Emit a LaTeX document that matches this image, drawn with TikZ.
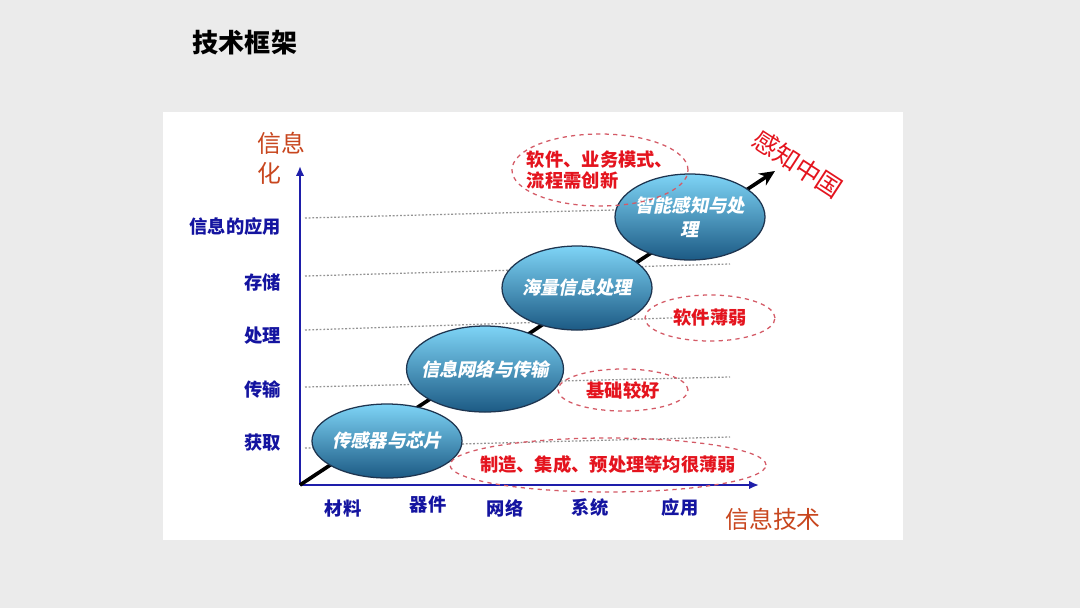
\documentclass[tikz,border=0pt]{standalone}
\usepackage{fontspec}
\setmainfont{Noto Sans CJK SC}
\newfontfamily\slantcjk{Noto Sans CJK SC}[UprightFeatures={FakeSlant=0.2},BoldFeatures={FakeSlant=0.2}]
\usepackage{tikz}
\usetikzlibrary{arrows.meta,shapes.geometric}

\definecolor{axisblue}{HTML}{1E1EAA}
\definecolor{labelblue}{HTML}{1414A0}
\definecolor{titlered}{HTML}{C8461E}
\definecolor{notered}{HTML}{E4141E}
\definecolor{dashred}{HTML}{D45A66}
\definecolor{balltop}{HTML}{7ED4F6}
\definecolor{ballbot}{HTML}{1C5A84}
\definecolor{ballrim}{HTML}{1E3550}
\definecolor{pagegray}{HTML}{EBEBEB}
\newcommand{\pxl}{0.025cm}

\tikzset{
  ball/.style={ellipse, draw=ballrim, line width=0.9pt, top color=balltop, bottom color=ballbot, inner sep=0pt},
  balltext/.style={text=white, align=center, inner sep=0pt, font=\fontsize{13}{17}\selectfont\slantcjk\bfseries},
  note/.style={ellipse, draw=dashred, dashed, line width=0.9pt, inner sep=0pt},
  notetext/.style={text=notered, align=left, inner sep=0pt, font=\fontsize{13}{15.5}\selectfont\bfseries},
  lvl/.style={anchor=east, text=labelblue, font=\fontsize{13}{15}\selectfont\bfseries},
  xlab/.style={text=labelblue, font=\fontsize{13}{15}\selectfont\bfseries},
  guide/.style={gray!85, line width=0.9pt, dash pattern=on 1.3pt off 1.3pt}
}

\begin{document}
\begin{tikzpicture}[x=0.025cm,y=-0.025cm]
\fill[pagegray] (0,0) rectangle (1080,608);
\fill[white] (163,112) rectangle (903,540);
\node[anchor=west, font=\fontsize{18.5}{20}\selectfont\bfseries] (title) at (188,43) {技术框架};

% levels and guide lines
\foreach \a/\b/\c/\t [count=\i] in {218/207/227/信息的应用,276/264/282/存储,330/316/336/处理,387/377/389/传输,448/437/443/获取}{
  \draw[guide] (305,\a) -- (730,\b);
  \node[lvl] (lv\i) at (286,\c) {\t};
}
\foreach \x/\y/\t [count=\i] in {343/509/材料,428/505/器件,505/508/网络,590/508/系统,680/508/应用}
  \node[xlab] (xl\i) at (\x,\y) {\t};

\coordinate (O) at (300,485);
\coordinate (ytop) at (300,166);
\coordinate (xend) at (759,485);
\coordinate (tip) at (775,171);
\draw[axisblue, line width=2pt, -{Latex[length=7pt,width=6pt]}] (O) -- (ytop);
\draw[axisblue, line width=2pt, -{Latex[length=7pt,width=6pt]}] (O) -- (xend);
\draw[black, line width=2.6pt, -{Stealth[length=11pt,width=10pt]}] (O) -- (tip);

\node[anchor=north west, align=left, text=titlered, font=\fontsize{17}{21.5}\selectfont] (yname) at (253,127) {信息\\化};
\node[text=titlered, font=\fontsize{17}{20}\selectfont] (xname) at (773,519) {信息技术};
\node[rotate=-33, text=notered, font=\fontsize{18}{20}\selectfont] (goal) at (798,164) {感知中国};

% stages
\node[ball, minimum width=150*\pxl, minimum height=74*\pxl] (chip) at (387,441) {};
\node[ball, minimum width=157*\pxl, minimum height=86*\pxl] (net) at (485,369) {};
\node[ball, minimum width=150*\pxl, minimum height=84*\pxl] (mass) at (577,288) {};
\node[ball, minimum width=150*\pxl, minimum height=86*\pxl] (smart) at (690,217) {};
\node[balltext] (chip-t) at (chip) {传感器与芯片};
\node[balltext] (net-t) at (net) {信息网络与传输};
\node[balltext] (mass-t) at (mass) {海量信息处理};
\node[balltext] (smart-t) at (smart) {智能感知与处\\理};

% remarks
\node[note, minimum width=176*\pxl, minimum height=72*\pxl] (n1) at (600,170) {};
\node[note, minimum width=130*\pxl, minimum height=46*\pxl] (n2) at (710,318) {};
\node[note, minimum width=130*\pxl, minimum height=42*\pxl] (n3) at (623,390) {};
\node[note, minimum width=316*\pxl, minimum height=54*\pxl] (n4) at (608,465) {};
\node[notetext] (n1-t) at (n1) {软件、业务模式、\\流程需创新};
\node[notetext] (n2-t) at (n2) {软件薄弱};
\node[notetext] (n3-t) at (n3) {基础较好};
\node[notetext] (n4-t) at (n4) {制造、集成、预处理等均很薄弱};
\end{tikzpicture}
\end{document}
